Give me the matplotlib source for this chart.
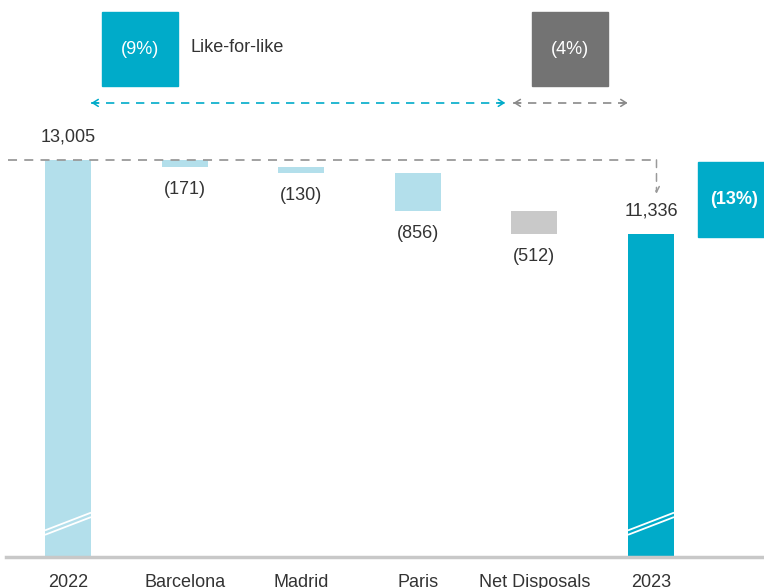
import matplotlib.pyplot as plt
from matplotlib.patches import Rectangle

plt.rcParams['font.family'] = ['Liberation Sans', 'DejaVu Sans']

# data
categories = ["2022", "Barcelona", "Madrid", "Paris", "Net Disposals", "2023"]
start_value = 13005
changes = [-171, -130, -856, -512]
end_value = 11336
value_labels = ["13,005", "(171)", "(130)", "(856)", "(512)", "11,336"]

LIGHT = "#b3dfeb"
TEAL = "#00abc9"
GREY_BOX = "#737373"
GREY_BAR = "#c9c9c9"
TEXT = "#333333"

fig = plt.figure(figsize=(7.64, 5.88), dpi=100)
ax = fig.add_axes([0, 31 / 588, 1, 557 / 588])
ax.set_xlim(-0.583, 5.969)
y0, y1 = 4050, 16610
ax.set_ylim(y0, y1)
for s in ax.spines.values():
	s.set_visible(False)
ax.set_yticks([])
ax.set_xticks(range(len(categories)), categories, fontsize=13, color=TEXT)
ax.tick_params(axis='x', length=0, pad=12)

w = 0.395
# totals
ax.bar(0, start_value - y0, bottom=y0, width=w, color=LIGHT)
ax.bar(5, end_value - y0, bottom=y0, width=w, color=TEAL)

# floating steps
running = start_value
for i, ch in enumerate(changes):
	col = GREY_BAR if categories[i + 1] == "Net Disposals" else LIGHT
	ax.bar(i + 1, -ch, bottom=running + ch, width=w, color=col)
	ax.annotate(value_labels[i + 1], (i + 1, running + ch), xytext=(0, -10),
		textcoords='offset points', ha='center', va='top', fontsize=13, color=TEXT)
	running += ch

ax.annotate(value_labels[0], (0, start_value), xytext=(0, 10), textcoords='offset points',
	ha='center', va='bottom', fontsize=13, color=TEXT)
ax.annotate(value_labels[5], (5, end_value), xytext=(0, 10), textcoords='offset points',
	ha='center', va='bottom', fontsize=13, color=TEXT)

# break marks on total bars
for xb in (0, 5):
	for off in (0, 100):
		ax.plot([xb - w / 2, xb + w / 2], [y0 + 500 + off, y0 + 900 + off],
			color="white", lw=1.3, solid_capstyle='butt')

# baseline
ax.plot([-0.53, 5.969], [y0, y0], color="#c8c8c8", lw=2.5, clip_on=False)

# dashed connector from 2022 to 2023
ax.plot([-0.515, 5.047], [start_value, start_value], color="#9a9a9a", lw=1.3,
	ls=(0, (5, 4)))
ax.annotate("", xy=(5.047, 12240), xytext=(5.047, start_value),
	arrowprops=dict(arrowstyle='->', color="#9a9a9a", lw=1.1, ls=(0, (5, 4)),
		shrinkA=0, shrinkB=0))

# range arrows
arrow_y = 14290
def dashed_range(xa, xb, color):
	ax.plot([xa, xb], [arrow_y, arrow_y], color=color, lw=1.2, ls=(0, (5, 4)))
	ax.annotate("", xy=(xa, arrow_y), xytext=(xa + 0.06, arrow_y),
		arrowprops=dict(arrowstyle='->,head_length=0.4,head_width=0.25', color=color, lw=1.1,
			shrinkA=0, shrinkB=0))
	ax.annotate("", xy=(xb, arrow_y), xytext=(xb - 0.06, arrow_y),
		arrowprops=dict(arrowstyle='->,head_length=0.4,head_width=0.25', color=color, lw=1.1,
			shrinkA=0, shrinkB=0))

dashed_range(0.2, 3.75, TEAL)
dashed_range(3.82, 4.8, "#8a8a8a")

# percentage boxes (pixel positions)
def px_box(x0, yt, x1, yb, color, label, weight='normal'):
	W, H = 764, 588
	fig.patches.append(Rectangle((x0 / W, 1 - yb / H), (x1 - x0) / W, (yb - yt) / H,
		transform=fig.transFigure, color=color, zorder=3))
	fig.text((x0 + x1) / 2 / W, 1 - (yt + yb) / 2 / H, label, color="white", fontsize=13,
		ha='center', va='center', zorder=4, weight=weight)

px_box(102, 12, 178, 86, TEAL, "(9%)")
px_box(532, 12, 608, 86, GREY_BOX, "(4%)")
px_box(698, 162, 770, 237, TEAL, "(13%)", weight='bold')
fig.text(190 / 764, 1 - 47 / 588, "Like-for-like", fontsize=13, color=TEXT, va='center')

fig.savefig("out.png", dpi=100)
